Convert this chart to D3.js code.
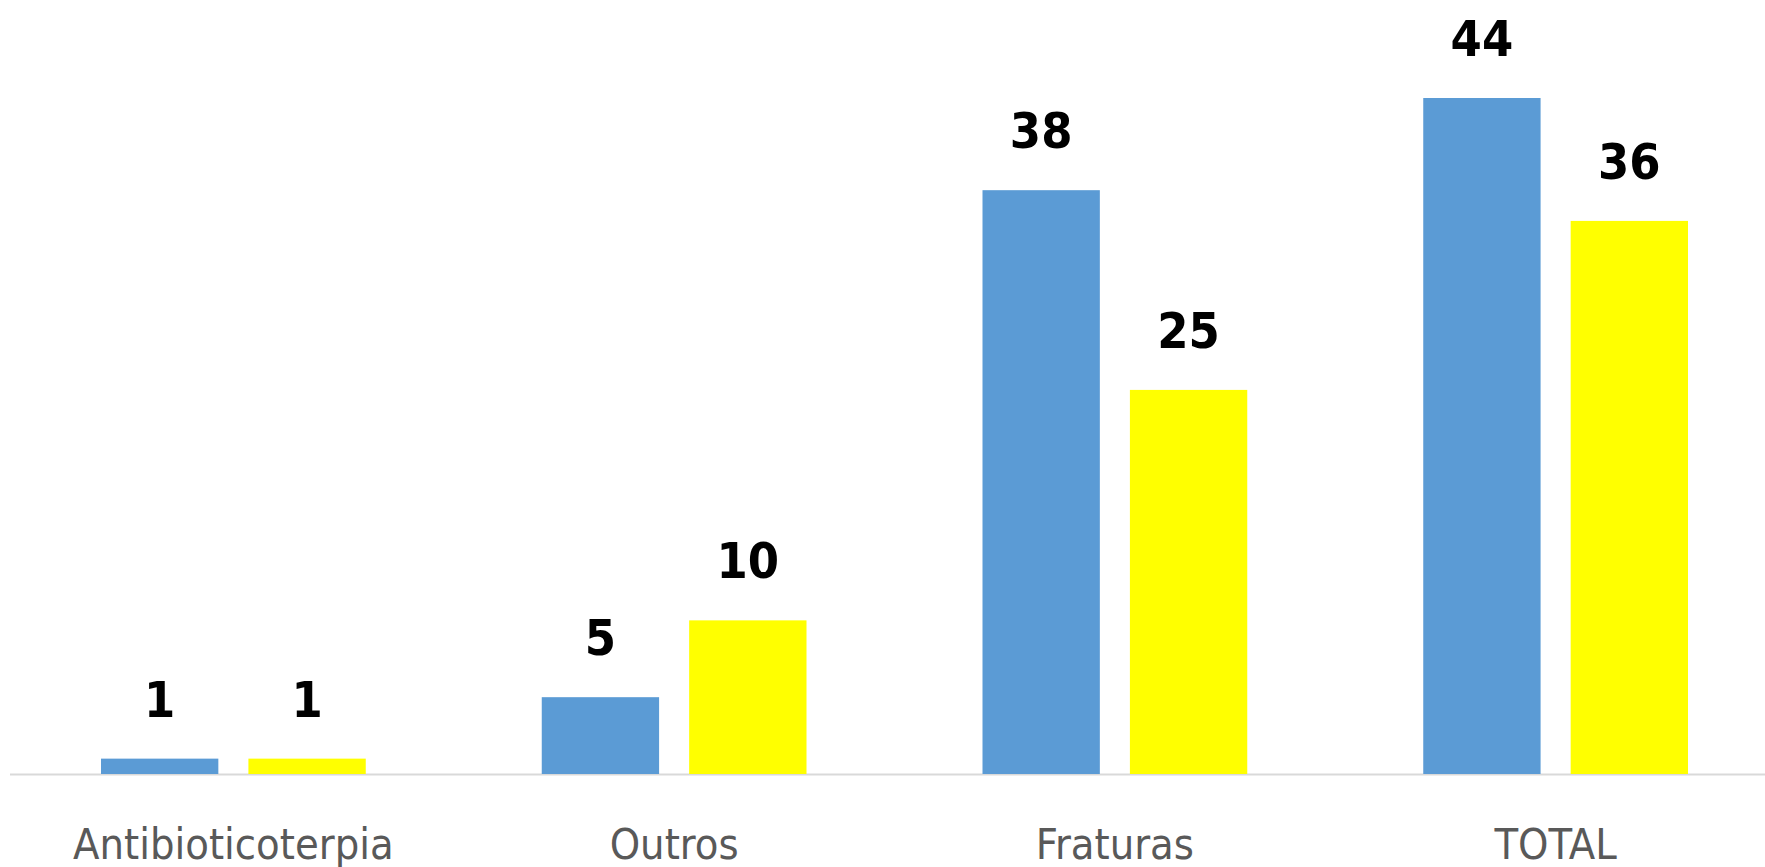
<!DOCTYPE html>
<html>
<head>
<meta charset="utf-8">
<script src="https://cdn.jsdelivr.net/npm/d3@7"></script>
<style>
  body { margin: 0; background: #fff; }
  svg { display: block; }
</style>
</head>
<body>
<svg id="chart"></svg>
<script>
const categories = ['Antibioticoterpia', 'Outros', 'Fraturas', 'TOTAL'];
const seriesNames = ['A', 'B'];
const seriesA = [1, 5, 38, 44];
const seriesB = [1, 10, 25, 36];
const colors = ['#5b9bd5', '#ffff00'];

const w = 1765, h = 867;
const svg = d3.select('#chart').attr('width', w).attr('height', h);

const baseY = 774;

const x0 = d3.scaleBand()
    .domain(categories)
    .range([13, 1776]);

const x1 = d3.scaleBand()
    .domain(seriesNames)
    .range([88, x0.bandwidth() - 88])
    .paddingInner(0.204);

const y = d3.scaleLinear()
    .domain([0, 44])
    .range([baseY, 98]);

const rows = categories.map((c, i) => ({cat: c, vals: [seriesA[i], seriesB[i]]}));

// axis line
svg.append('line')
    .attr('x1', 10).attr('x2', w)
    .attr('y1', baseY + 0.5).attr('y2', baseY + 0.5)
    .attr('stroke', '#d9d9d9')
    .attr('stroke-width', 2);

const groups = svg.selectAll('g.cat').data(rows)
  .enter().append('g')
    .attr('class', 'cat')
    .attr('transform', d => `translate(${x0(d.cat)},0)`);

groups.selectAll('rect').data(d => d.vals.map((v, j) => ({key: seriesNames[j], v: v, j: j})))
  .enter().append('rect')
    .attr('x', d => x1(d.key))
    .attr('width', x1.bandwidth())
    .attr('y', d => y(d.v))
    .attr('height', d => baseY - y(d.v))
    .attr('fill', d => colors[d.j]);

groups.selectAll('text.val').data(d => d.vals.map((v, j) => ({key: seriesNames[j], v: v})))
  .enter().append('text')
    .attr('class', 'val')
    .attr('x', d => x1(d.key) + x1.bandwidth() / 2)
    .attr('y', d => y(d.v) - 42)
    .attr('text-anchor', 'middle')
    .attr('font-family', '"Liberation Sans Narrow", "DejaVu Sans Condensed", sans-serif')
    .attr('font-weight', 'bold')
    .attr('font-size', 50)
    .attr('fill', '#000')
    .text(d => d.v);

groups.append('text')
    .attr('x', x0.bandwidth() / 2)
    .attr('y', 859)
    .attr('text-anchor', 'middle')
    .attr('font-family', '"Liberation Sans Narrow", "DejaVu Sans Condensed", sans-serif')
    .attr('font-size', 43)
    .attr('fill', '#595959')
    .text(d => d.cat);
</script>
</body>
</html>
